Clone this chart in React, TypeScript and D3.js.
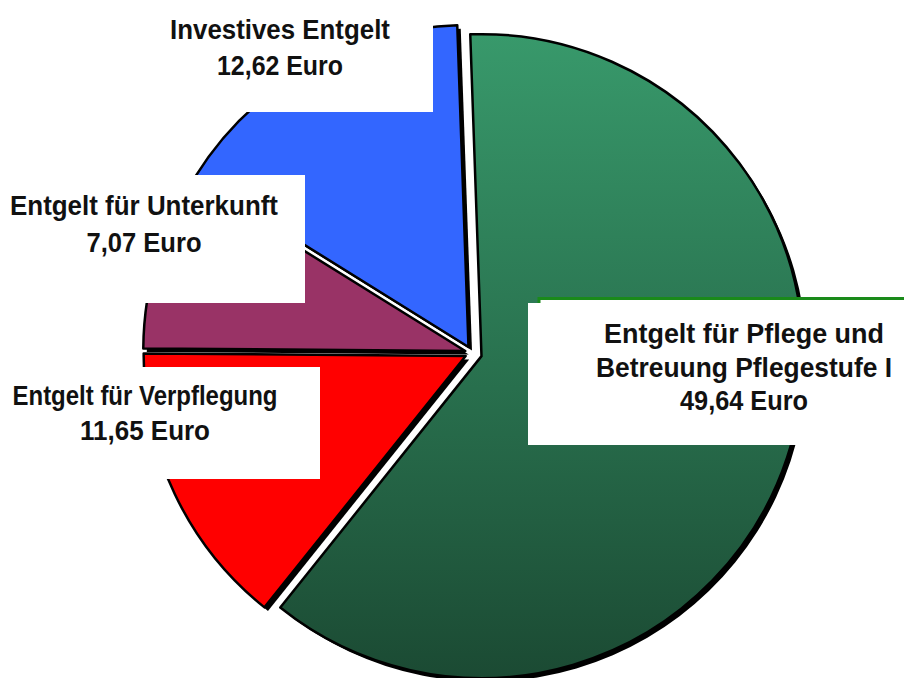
import React from 'react';
import * as d3 from 'd3';

// ---- data ----
const categories = [
  'Entgelt für Pflege und Betreuung Pflegestufe I',
  'Entgelt für Verpflegung',
  'Entgelt für Unterkunft',
  'Investives Entgelt',
];
const amounts = [49.64, 11.65, 7.07, 12.62];
const labelLines = [
  ['Entgelt für Pflege und', 'Betreuung Pflegestufe I'],
  ['Entgelt für Verpflegung'],
  ['Entgelt für Unterkunft'],
  ['Investives Entgelt'],
];
const currencyLabel = 'Euro';

// ---- styles / layout ----
const W = 904;
const H = 678;
const CX = 472;
const CY = 353;
const R = 322;
const START_DEG = -2;
const sliceFills = ['url(#greenGrad)', '#ff0000', '#993366', '#3366ff'];
const explode = [10, 7, 7, 7];
const labelBoxes = [
  { x: 528, y: 303, w: 376, h: 142, cx: 744, baselines: [343, 377, 410], widths: [280, 296, 128] },
  { x: 0, y: 367, w: 320, h: 112, cx: 145, baselines: [405, 440], widths: [265, 130] },
  { x: 0, y: 175, w: 305, h: 128, cx: 144, baselines: [215, 252], widths: [268, 115] },
  { x: 150, y: 0, w: 283, h: 112, cx: 280, baselines: [39, 75], widths: [220, 126] },
];
const FONT = "'Liberation Sans', Arial, sans-serif";

const de = d3.formatLocale({ decimal: ',', thousands: '.', grouping: [3], currency: ['', ' €'] });
const fmt = de.format('.2f');

export default function App() {
  const start = (START_DEG * Math.PI) / 180;
  const pie = d3
    .pie<number>()
    .sort(null)
    .value((d) => d)
    .startAngle(start)
    .endAngle(start + 2 * Math.PI);
  const arcs = pie(amounts);
  const arcGen = d3.arc<d3.PieArcDatum<number>>().innerRadius(0).outerRadius(R);

  const slices = arcs.map((a, i) => {
    const mid = (a.startAngle + a.endAngle) / 2;
    const dx = explode[i] * Math.sin(mid);
    const dy = -explode[i] * Math.cos(mid);
    return { d: arcGen(a) || '', tx: CX + dx, ty: CY + dy, fill: sliceFills[i], key: categories[i] };
  });

  return (
    <svg
      width={W}
      height={H}
      viewBox={`0 0 ${W} ${H}`}
      style={{ position: 'absolute', left: 0, top: 0, display: 'block', background: '#fff' }}
    >
      <defs>
        <linearGradient id="greenGrad" gradientUnits="userSpaceOnUse" x1="0" y1={-R} x2="0" y2={R}>
          <stop offset="0%" stopColor="#38996b" />
          <stop offset="55%" stopColor="#286f4d" />
          <stop offset="100%" stopColor="#1b4a33" />
        </linearGradient>
      </defs>
      <rect x={0} y={0} width={W} height={H} fill="#fff" />
      {/* shadows */}
      {slices.map((s) => (
        <path key={'sh-' + s.key} d={s.d} transform={`translate(${s.tx + 3.5},${s.ty + 3.5})`} fill="#000" />
      ))}
      {/* slices */}
      {slices.map((s) => (
        <path
          key={'sl-' + s.key}
          d={s.d}
          transform={`translate(${s.tx},${s.ty})`}
          fill={s.fill}
          stroke="#000"
          strokeWidth={2.5}
          strokeLinejoin="round"
        />
      ))}
      {/* green frame behind the main label */}
      <rect x={539} y={298.5} width={420} height={140} fill="#fff" stroke="#1a8a1a" strokeWidth={3} />
      {/* label boxes */}
      {labelBoxes.map((b, i) => {
        const lines = [...labelLines[i], `${fmt(amounts[i])} ${currencyLabel}`];
        return (
          <g key={'lb-' + categories[i]}>
            <rect x={b.x} y={b.y} width={b.w} height={b.h} fill="#fff" />
            {lines.map((t, j) => (
              <text
                key={j}
                x={b.cx}
                y={b.baselines[j]}
                textAnchor="middle"
                fontFamily={FONT}
                fontWeight="bold"
                fontSize={27}
                fill="#111"
                textLength={b.widths[j]}
                lengthAdjust="spacingAndGlyphs"
              >
                {t}
              </text>
            ))}
          </g>
        );
      })}
    </svg>
  );
}
